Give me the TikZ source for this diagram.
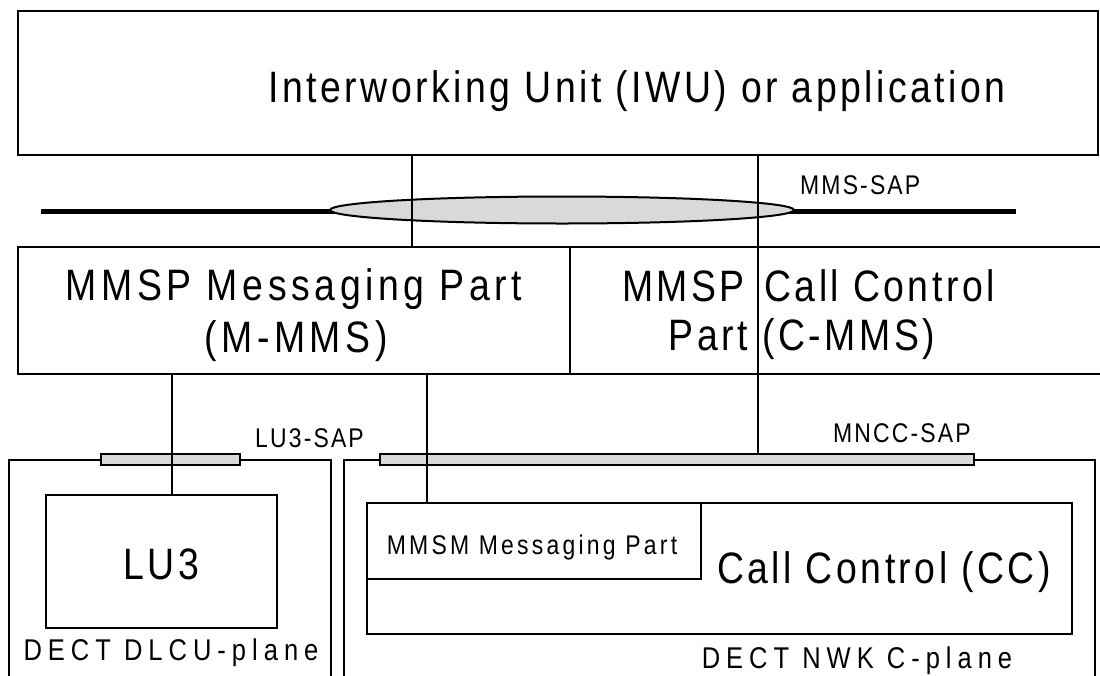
\documentclass[tikz,border=0pt]{standalone}
\usepackage{fontspec}
\setmainfont{Liberation Sans}[FakeStretch=0.85,LetterSpace=8]
\usetikzlibrary{shapes.geometric}
\tikzset{
  box/.style={draw, line width=2pt, inner sep=0pt, anchor=north west},
  conn/.style={line width=1.3pt},
  sapbar/.style={draw, line width=2pt, fill=gray!30, inner sep=0pt, anchor=north west},
  sapline/.style={line width=5pt},
  big/.style={inner sep=0pt, font=\fontsize{44}{52}\selectfont},
  small/.style={inner sep=0pt, font=\fontsize{27}{32}\selectfont},
  plane/.style={inner sep=0pt, font=\fontsize{30}{36}\selectfont\addfontfeature{LetterSpace=20}},
  wider/.style={font=\fontsize{44}{52}\selectfont\addfontfeature{LetterSpace=10.5}},
}
\begin{document}
\begin{tikzpicture}[x=1pt,y=-1pt]
\useasboundingbox (0,0) rectangle (1100,675);
\fill[white] (0,0) rectangle (1100,675);
% boxes
\node[box, minimum width=1080pt, minimum height=144pt] (iwu) at (17,10) {};
\node[box, minimum width=1090pt, minimum height=127pt] (mmsp) at (17,246) {};
\node[box, minimum width=322pt, minimum height=300pt] (dlcu) at (8,459) {};
\node[box, minimum width=751pt, minimum height=300pt] (nwk) at (343,459) {};
\node[box, minimum width=231pt, minimum height=133pt] (lu3) at (45,494) {};
\node[box, minimum width=705pt, minimum height=131pt] (cc) at (366,502) {};
\node[box, minimum width=334pt, minimum height=76pt] (mmsm) at (366,502) {};
% SAP bars
\node[sapbar, minimum width=139pt, minimum height=11pt] (lu3bar) at (100,453) {};
\node[sapbar, minimum width=594pt, minimum height=11pt] (mnccbar) at (379,453) {};
% MMS-SAP
\coordinate (sapL) at (41,211);
\coordinate (sapR) at (1016,211);
\draw[sapline] (sapL) -- (562,211);
\draw[sapline] (562,211) -- (sapR);
\node[ellipse, draw, line width=2pt, fill=gray!30, minimum width=464pt, minimum height=27pt, inner sep=0pt] (sap) at (562,210) {};
% x positions of connectors
\coordinate (xa) at (412,0);
\coordinate (xb) at (758,0);
\coordinate (xc) at (172,0);
\coordinate (xd) at (427,0);
\coordinate (xdiv) at (570,0);
% connectors
\draw[line width=1.5pt] (mmsp.north -| xdiv) -- (mmsp.south -| xdiv);
\draw[conn] (iwu.south -| xa) -- (mmsp.north -| xa);
\draw[conn] (iwu.south -| xb) -- (mnccbar.north -| xb);
\draw[conn] (mmsp.south -| xc) -- (lu3.north -| xc);
\draw[conn] (mmsp.south -| xd) -- (mmsm.north -| xd);
% texts
\node[big, anchor=base] (iwutext) at (637,102) {Interworking Unit (IWU) or application};
\node[big, wider, anchor=base] (mm1) at (294,300) {MMSP Messaging Part};
\node[big, wider, anchor=base] (mm2) at (296,352) {(M-MMS)};
\node[big, anchor=base east] (cm1) at (745,301) {MMSP};
\node[big, anchor=base east] (cm2) at (748,350) {Part};
\node[big, anchor=base west] (cm3) at (764,301) {Call Control};
\node[big, anchor=base west] (cm4) at (762,350) {(C-MMS)};
\node[small, anchor=base west] (mmssaptext) at (800,194) {MMS-SAP};
\node[small, anchor=base west] (lu3saptext) at (255,447) {LU3-SAP};
\node[small, anchor=base west] (mnccsaptext) at (833,442) {MNCC-SAP};
\node[big, anchor=base] (lu3text) at (161,579) {LU3};
\node[big, anchor=base] (cctext) at (884,583) {Call Control (CC)};
\node[small, anchor=base, font=\fontsize{27}{32}\selectfont\addfontfeature{LetterSpace=12}] (mmsmtext) at (532,554) {MMSM Messaging Part};
\node[plane, anchor=base] (dlcutext) at (171,660) {DECT DLCU-plane};
\node[plane, anchor=base] (nwktext) at (857,668) {DECT NWK C-plane};
\end{tikzpicture}
\end{document}
